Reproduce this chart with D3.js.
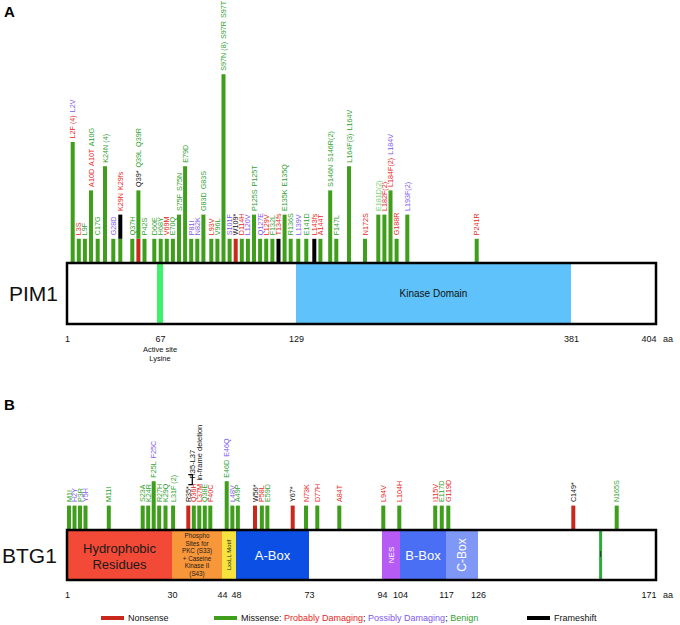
<!DOCTYPE html>
<html>
<head>
<meta charset="utf-8">
<title>PIM1 / BTG1 mutations</title>
<style>
  body { margin: 0; background: #fff; }
  svg text { font-family: "Liberation Sans", Arial, Helvetica, sans-serif; }
</style>
</head>
<body>
<svg id="chart" width="680" height="625"></svg>
<script src="https://cdn.jsdelivr.net/npm/d3@7"></script>
<script>
// ---- PIM1 ----
// label codes: r = probably damaging, p = possibly damaging, g = benign, l = benign (light), k = nonsense/other
var pimPos = [2,3,9,10,17,24,28,29,37,39,42,60,68,69,70,75,79,81,82,83,93,96,97,101,109,114,120,125,127,129,132,134,135,136,139,141,143,144,146,147,164,172,181,182,184,188,193,241];
var pimLabels = ["r:L2F (4)|p:L2V","r:L3S","g:L9F","r:A10D|r:A10T|g:A10G","g:C17G","g:K24N (4)","p:G28D","r:K29N|r:K29fs","g:Q37H","k:Q39*|g:Q39L|g:Q39R","g:P42S","g:D60E","g:H68Y","r:V69M","g:E70Q","g:S75F|g:S75N","g:E79D","p:P81I","p:N82K","g:G83D|g:G83S","r:L93V","g:V96L","g:S97N (8)|g:S97R|g:S97T","p:S101F","k:W109*","r:D114H","p:L120V","g:P125S|g:P125T","p:Q127E","r:L129V","g:F132L","r:T134fs","g:E135K|g:E135Q","g:R136S","p:L139V","g:E141D","r:L143fs","r:A144T","g:S146N|g:S146R(2)","g:F147L","g:L164F(3)|g:L164V","r:N172S","l:E181D(2)","r:L182F(2)","r:L184F(2)|p:L184V","r:G188R","p:L193F(2)","r:P241R"];
var pimMissense = [5,1,1,3,1,4,1,1,1,2,1,1,1,1,1,2,4,1,1,2,1,1,7.8,1,0,1,1,2,1,1,1,0,2,1,1,1,0,1,3,1,4,1,2,2,3,1,2,1];
var pimNonsense = [39,109];
var pimFrameshift = [29,134,143];
var pimTicks = [1,67,129,381,404];
var pimActiveSite = 67;
var pimDomainStart = [129], pimDomainEnd = [381], pimDomainName = ["Kinase Domain"];

// ---- BTG1 ----
var btgPos = [1,2,3,5,11,23,24,25,27,29,31,35,36,37,38,40,46,48,49,56,58,59,67,73,77,84,94,104,115,117,119,149,165];
var btgLabels = ["g:M1I","p:H2Y","g:P3R","p:Y5H","g:M11I","g:S23A","g:K24R","g:F25L|p:F25C","g:R27H","g:K29Q","g:L31F (2)","k:R35*","r:Q36H","r:L37M","g:Q38E","r:F40C","g:E46D|p:E46Q","p:L48V","g:A49P","k:W56*","r:P58L","g:E59D","k:Y67*","r:N73K","r:D77H","r:A84T","r:L94V","r:L104H","r:I115V","g:E117D","r:G119D","k:C149*","g:N165S"];
var btgMissense = [1,1,1,1,1,1,1,2,1,1,1,0,1,1,1,1,2,1,1,0,1,1,0,1,1,1,1,1,1,1,1,0,1];
var btgNonsense = [35,56,67,149];
var btgFrameshift = [];
var btgTicks = [1,30,44,48,73,94,104,117,126,171];
var btgDomainStart = [1,30,44,48,94,104,117];
var btgDomainEnd = [30,44,48,73,104,117,126];
var btgDomainName = ["Hydrophobic Residues","Phospho Sites for PKC (S33) + Caseine Kinase II (S43)","LxxLL Motif","A-Box","NES","B-Box","C-Box"];
var btgMarker = 157;

var labelColor = { r: "#e8261e", p: "#7f58ee", g: "#2f9f2f", l: "#74cf74", k: "#111" };
var barColor = { nonsense: "#c9281d", missense: "#3f9e1b", frameshift: "#000" };

var svg = d3.select("#chart");

function buildRows(pos, labels, missense, nonsense, frameshift) {
  return pos.map(function(p, i) {
    return {
      pos: p,
      labels: labels[i].split("|").map(function(s) { return { c: s[0], t: s.slice(2) }; }),
      nonsense: nonsense.indexOf(p) >= 0 ? 1 : 0,
      missense: missense[i],
      frameshift: frameshift.indexOf(p) >= 0 ? 1 : 0
    };
  });
}

// spread crowded sites so bars never overlap
function placeX(rows, scale, gap) {
  var last = -Infinity;
  rows.forEach(function(d) {
    d.x = Math.max(scale(d.pos), last + gap);
    last = d.x;
  });
}

var stack = d3.stack().keys(["nonsense", "missense", "frameshift"]);

function drawLollipops(rows, y) {
  var g = svg.append("g");
  var series = stack(rows);
  g.selectAll("g.layer")
    .data(series)
    .enter().append("g")
    .attr("class", "layer")
    .attr("fill", function(s) { return barColor[s.key]; })
    .selectAll("rect")
    .data(function(s) { return s.filter(function(d) { return d[1] > d[0]; }); })
    .enter().append("rect")
    .attr("x", function(d) { return d.data.x - 2; })
    .attr("width", 4)
    .attr("y", function(d) { return y(d[1]); })
    .attr("height", function(d) { return y(d[0]) - y(d[1]); });

  var lab = g.selectAll("text.mut")
    .data(rows)
    .enter().append("text")
    .attr("class", "mut")
    .attr("transform", function(d) {
      var top = d.nonsense + d.missense + d.frameshift;
      return "translate(" + d.x + "," + (y(top) - 3.5) + ") rotate(-90)";
    })
    .attr("dy", "0.36em")
    .style("font-size", "7.2px");
  lab.selectAll("tspan")
    .data(function(d) { return d.labels; })
    .enter().append("tspan")
    .attr("dx", function(d, i) { return i ? 3 : 0; })
    .attr("fill", function(d) { return labelColor[d.c]; })
    .text(function(d) { return d.t; });
}

function drawAxis(scale, ticks, ty) {
  var ax = svg.append("g")
    .attr("transform", "translate(0," + ty + ")")
    .call(d3.axisBottom(scale).tickValues(ticks).tickSize(0).tickPadding(0).tickFormat(d3.format("d")));
  ax.select(".domain").remove();
  ax.selectAll("text")
    .attr("font-family", null)
    .style("font-size", "9px")
    .attr("fill", "#111");
  ax.selectAll(".tick:last-of-type text").attr("text-anchor", "end").attr("x", 0);
  svg.append("text")
    .attr("x", 663).attr("y", ty).attr("dy", "0.71em")
    .style("font-size", "9px").attr("fill", "#111")
    .text("aa");
}

// ================= PANEL A: PIM1 =================
var pimAxis = d3.scaleLinear().domain(pimTicks).range([67, 160, 296, 571, 656]);
var pimLolli = d3.scaleLinear()
  .domain([2,17,24,28,29,37,42,60,68,93,96,97,125,134,143,147,164,172,181,193,241])
  .range([72.7,97.7,105,113.3,120.3,132.3,144.3,154.3,160.7,211.3,217.3,223.3,251.7,278.3,314.3,335.5,349,365,378.3,407.3,476.7]);
var pimTop = 263, pimH = 61;
var pimY = d3.scaleLinear().domain([0, 1]).range([pimTop, pimTop - 24.2]);

var pimRows = buildRows(pimPos, pimLabels, pimMissense, pimNonsense, pimFrameshift);
placeX(pimRows, pimLolli, 6.1);
drawLollipops(pimRows, pimY);

svg.append("text").attr("x", 4).attr("y", 17)
  .style("font-size", "15px").style("font-weight", "bold").text("A");

svg.append("rect").attr("x", pimAxis(1)).attr("y", pimTop)
  .attr("width", pimAxis(404) - pimAxis(1)).attr("height", pimH).attr("fill", "#fff");
svg.selectAll("rect.pimdom")
  .data(pimDomainStart)
  .enter().append("rect")
  .attr("class", "pimdom")
  .attr("x", function(d) { return pimAxis(d); })
  .attr("width", function(d, i) { return pimAxis(pimDomainEnd[i]) - pimAxis(d); })
  .attr("y", pimTop).attr("height", pimH)
  .attr("fill", "#5fc2fa");
svg.selectAll("text.pimdomlab")
  .data(pimDomainStart)
  .enter().append("text")
  .attr("class", "pimdomlab")
  .attr("x", function(d, i) { return (pimAxis(d) + pimAxis(pimDomainEnd[i])) / 2; })
  .attr("y", pimTop + pimH / 2).attr("dy", "0.35em")
  .attr("text-anchor", "middle")
  .style("font-size", "10px").attr("fill", "#111")
  .text(function(d, i) { return pimDomainName[i]; });
svg.append("rect").attr("x", pimAxis(pimActiveSite) - 3).attr("width", 6)
  .attr("y", pimTop).attr("height", pimH).attr("fill", "#3ff06a");
svg.append("rect").attr("x", pimAxis(1)).attr("y", pimTop)
  .attr("width", pimAxis(404) - pimAxis(1)).attr("height", pimH)
  .attr("fill", "none").attr("stroke", "#000").attr("stroke-width", 2.5);
svg.append("text").attr("x", 9).attr("y", pimTop + pimH / 2 + 7.5)
  .style("font-size", "21px").attr("fill", "#111").text("PIM1");

drawAxis(pimAxis, pimTicks, 336);
svg.append("text").attr("x", pimAxis(pimActiveSite)).attr("y", 352)
  .attr("text-anchor", "middle").style("font-size", "7.5px").attr("fill", "#111")
  .selectAll("tspan").data(["Active site", "Lysine"]).enter().append("tspan")
  .attr("x", pimAxis(pimActiveSite)).attr("dy", function(d, i) { return i ? 8.5 : 0; })
  .text(function(d) { return d; });

// ================= PANEL B: BTG1 =================
var btgAxis = d3.scaleLinear().domain(btgTicks).range([67, 172, 222, 236, 309, 382, 400, 446, 478, 656]);
var btgLolli = d3.scaleLinear()
  .domain([1,11,23,35,46,56,67,73,77,84,94,104,119,149,165])
  .range([69,108.8,142.7,188.3,226.7,255,292.7,306,317.3,339.3,383.3,399.3,448.3,573.3,616.7]);
var btgTop = 530, btgH = 50;
var btgY = d3.scaleLinear().domain([0, 1]).range([btgTop, btgTop - 24.4]);

var btgRows = buildRows(btgPos, btgLabels, btgMissense, btgNonsense, btgFrameshift);
placeX(btgRows, btgLolli, 5.5);
drawLollipops(btgRows, btgY);

// in-frame deletion note over R35-L37
var delX = btgRows[11].x, delY = btgY(1) - 26;
svg.append("path")
  .attr("d", "M" + (delX) + "," + (delY - 5) + "h4v10h-4")
  .attr("fill", "none").attr("stroke", "#000").attr("stroke-width", 1.2);
svg.append("text")
  .attr("transform", "translate(" + (delX + 4) + "," + (delY - 1) + ") rotate(-90)")
  .attr("dy", "0.35em").style("font-size", "7.5px").attr("fill", "#111").text("R35-L37");
svg.append("text")
  .attr("transform", "translate(" + (delX + 11) + "," + (delY + 1) + ") rotate(-90)")
  .attr("dy", "0.35em").style("font-size", "7.5px").attr("fill", "#111").text("in-frame deletion");

svg.append("text").attr("x", 4).attr("y", 410)
  .style("font-size", "15px").style("font-weight", "bold").text("B");

var btgFill = ["#f34a38", "#f8963a", "#f6e33e", "#0c4fe4", "#b65cf4", "#4b6ff4", "#7f98f6"];
svg.append("rect").attr("x", btgAxis(1)).attr("y", btgTop)
  .attr("width", btgAxis(171) - btgAxis(1)).attr("height", btgH).attr("fill", "#fff");
svg.selectAll("rect.btgdom")
  .data(btgDomainStart)
  .enter().append("rect")
  .attr("class", "btgdom")
  .attr("x", function(d) { return btgAxis(d); })
  .attr("width", function(d, i) { return btgAxis(btgDomainEnd[i]) - btgAxis(d); })
  .attr("y", btgTop).attr("height", btgH)
  .attr("fill", function(d, i) { return btgFill[i]; });
svg.append("rect").attr("x", btgAxis(btgMarker) - 1.5).attr("width", 3)
  .attr("y", btgTop).attr("height", btgH).attr("fill", "#2fa83e");
svg.append("rect").attr("x", btgAxis(btgMarker) - 0.5).attr("width", 1)
  .attr("y", btgTop + btgH / 2 - 4).attr("height", 6).attr("fill", "#333");

function mid(i) { return (btgAxis(btgDomainStart[i]) + btgAxis(btgDomainEnd[i])) / 2; }
var cy = btgTop + btgH / 2;
// Hydrophobic residues
svg.append("text").attr("text-anchor", "middle").style("font-size", "13px").attr("fill", "#1a1a1a")
  .selectAll("tspan").data(["Hydrophobic", "Residues"]).enter().append("tspan")
  .attr("x", mid(0)).attr("y", function(d, i) { return cy - 7 + i * 16; }).attr("dy", "0.35em")
  .text(function(d) { return d; });
// phospho sites
svg.append("text").attr("text-anchor", "middle").style("font-size", "6.3px").attr("fill", "#1a1a1a")
  .selectAll("tspan").data(["Phospho", "Sites for", "PKC (S33)", "+ Caseine", "Kinase II", "(S43)"]).enter().append("tspan")
  .attr("x", mid(1)).attr("y", function(d, i) { return cy - 18.75 + i * 7.5; }).attr("dy", "0.35em")
  .text(function(d) { return d; });
// LxxLL
svg.append("text").attr("transform", "translate(" + mid(2) + "," + cy + ") rotate(-90)")
  .attr("text-anchor", "middle").attr("dy", "0.35em").style("font-size", "6px").attr("fill", "#1a1a1a")
  .text(btgDomainName[2]);
svg.append("text").attr("x", mid(3)).attr("y", cy).attr("dy", "0.35em").attr("text-anchor", "middle")
  .style("font-size", "13px").attr("fill", "#fff").text(btgDomainName[3]);
svg.append("text").attr("transform", "translate(" + mid(4) + "," + cy + ") rotate(-90)")
  .attr("text-anchor", "middle").attr("dy", "0.35em").style("font-size", "8px").attr("fill", "#fff")
  .text(btgDomainName[4]);
svg.append("text").attr("x", mid(5)).attr("y", cy).attr("dy", "0.35em").attr("text-anchor", "middle")
  .style("font-size", "13px").attr("fill", "#fff").text(btgDomainName[5]);
svg.append("text").attr("transform", "translate(" + mid(6) + "," + cy + ") rotate(-90)")
  .attr("text-anchor", "middle").attr("dy", "0.35em").style("font-size", "12px").attr("fill", "#fff")
  .text(btgDomainName[6]);

svg.append("rect").attr("x", btgAxis(1)).attr("y", btgTop)
  .attr("width", btgAxis(171) - btgAxis(1)).attr("height", btgH)
  .attr("fill", "none").attr("stroke", "#000").attr("stroke-width", 2.5);
svg.append("text").attr("x", 2).attr("y", cy + 7.5)
  .style("font-size", "21px").attr("fill", "#111").text("BTG1");

drawAxis(btgAxis, btgTicks, 592);

// ================= legend =================
var legend = svg.append("g").attr("transform", "translate(0,618)").style("font-size", "9px");
var legendItems = [
  { x: 101, color: barColor.nonsense, parts: [["Nonsense", "#111"]] },
  { x: 214, color: barColor.missense, parts: [["Missense: ", "#111"], ["Probably Damaging", labelColor.r], ["; ", "#111"], ["Possibly Damaging", labelColor.p], ["; ", "#111"], ["Benign", labelColor.g]] },
  { x: 527, color: barColor.frameshift, parts: [["Frameshift", "#111"]] }
];
var li = legend.selectAll("g").data(legendItems).enter().append("g")
  .attr("transform", function(d) { return "translate(" + d.x + ",0)"; });
li.append("rect").attr("x", 0).attr("y", -2).attr("width", 23).attr("height", 4)
  .attr("fill", function(d) { return d.color; });
li.append("text").attr("x", 27).attr("dy", "0.35em")
  .attr("xml:space", "preserve")
  .selectAll("tspan").data(function(d) { return d.parts; }).enter().append("tspan")
  .attr("fill", function(d) { return d[1]; })
  .text(function(d) { return d[0]; });
</script>
</body>
</html>
